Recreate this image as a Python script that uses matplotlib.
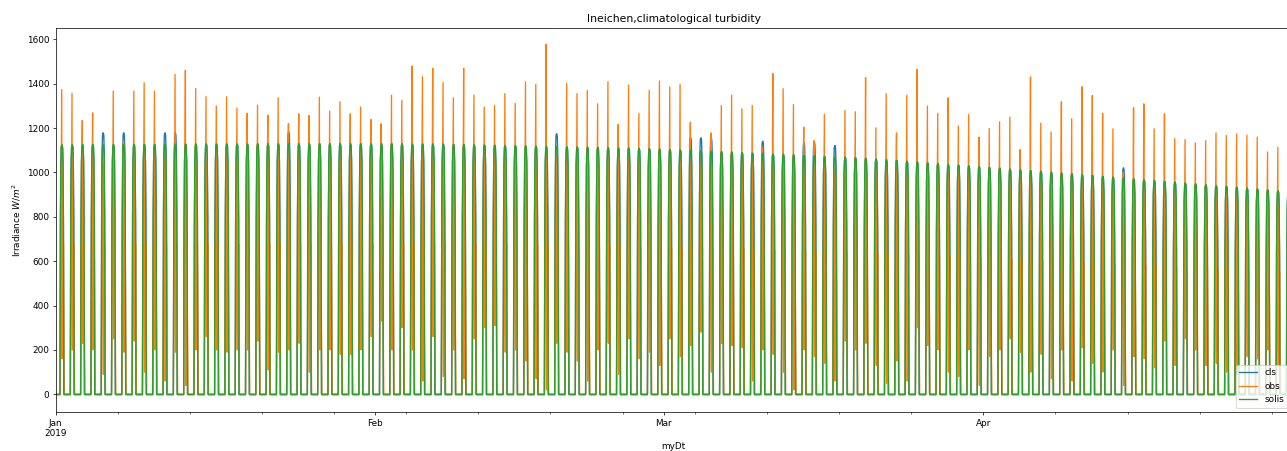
import numpy as np
import pandas as pd
import matplotlib
matplotlib.use("Agg")
import matplotlib.pyplot as plt
import matplotlib.dates as mdates
from matplotlib.ticker import FuncFormatter

# ---------------- data ----------------
start_date = "2019-01-01"
n_days = 120

# daily maximum of the Solis clear-sky series (W/m2)
solis_jan = [1124, 1124, 1125, 1125, 1125, 1125, 1126, 1126, 1126, 1126,
             1127, 1127, 1127, 1127, 1128, 1128, 1128, 1128, 1128, 1128,
             1129, 1129, 1129, 1129, 1129, 1129, 1129, 1129, 1129, 1129, 1129]
solis_feb = [1129, 1129, 1129, 1128, 1128, 1128, 1127, 1126, 1125,
             1124, 1123, 1122, 1121, 1120, 1119, 1118, 1117, 1116, 1115,
             1114, 1113, 1112, 1111, 1110, 1109, 1108, 1107, 1105]
solis_mar = [1103,
             1101, 1099, 1097, 1095, 1093, 1091, 1089, 1087, 1085, 1083,
             1081, 1079, 1076, 1074, 1072, 1070, 1068, 1066, 1063, 1060,
             1057, 1054, 1050, 1047, 1043, 1040, 1036, 1033, 1029, 1026]
solis_apr = [1022, 1019, 1015, 1012, 1008, 1005, 1001, 997, 994, 990,
             986, 982, 978, 975, 971, 967, 963, 959, 956, 952,
             948, 944, 940, 937, 933, 929, 925, 921, 917, 913]

# daily maximum of the Ineichen clear-sky series (W/m2)
cls_jan = [1124, 1124, 1125, 1125, 1178, 1125, 1178, 1126, 1126, 1126,
           1178, 1178, 1127, 1127, 1128, 1128, 1128, 1128, 1128, 1128,
           1129, 1129, 1182, 1129, 1129, 1129, 1129, 1129, 1129, 1129, 1129]
cls_feb = [1129, 1129, 1129, 1128, 1128, 1128, 1127, 1126, 1125,
           1124, 1123, 1122, 1121, 1120, 1119, 1118, 1117, 1174, 1115,
           1114, 1113, 1112, 1111, 1110, 1109, 1108, 1107, 1105]
cls_mar = [1103,
           1101, 1156, 1155, 1154, 1093, 1091, 1089, 1087, 1140, 1083,
           1081, 1079, 1132, 1136, 1072, 1121, 1068, 1066, 1063, 1060,
           1057, 1054, 1050, 1047, 1043, 1040, 1036, 1033, 1029, 1026]
cls_apr = [1022, 1019, 1015, 1012, 1008, 1005, 1001, 997, 994, 990,
           986, 982, 978, 1020, 971, 967, 963, 959, 956, 952,
           948, 944, 940, 937, 933, 929, 925, 921, 917, 913]

# daily maximum of the observations (W/m2)
obs_jan = [1374, 1356, 1234, 1268, 1010, 1366, 1140, 1366, 1404, 1366,
           1050, 1442, 1460, 1378, 1341, 1299, 1341, 1290, 1266, 1303,
           1258, 1336, 1220, 1264, 1256, 1339, 1276, 1318, 1264, 1294, 1238]
obs_feb = [1219, 1348, 1324, 1479, 1431, 1469, 1405, 1336, 1469,
           1348, 1294, 1302, 1355, 1311, 1408, 1397, 1577, 1080, 1401,
           1355, 1369, 1309, 1409, 1216, 1394, 1266, 1369, 1412]
obs_mar = [1385,
           1397, 1226, 1050, 1178, 1302, 1348, 1287, 1302, 1113, 1445,
           1377, 1306, 1204, 1143, 1261, 1000, 1279, 1273, 1427, 1201,
           1355, 1178, 1348, 1464, 1299, 1266, 1336, 1208, 1261, 1159]
obs_apr = [1198, 1228, 1249, 1103, 1430, 1222, 1182, 1318, 1242, 1386,
           1347, 1266, 1196, 1000, 1291, 1309, 1196, 1264, 1152, 1148,
           1133, 1143, 1178, 1166, 1173, 1167, 1159, 1092, 1113, 1000]

# cloud dip of the observations right after the daily maximum (W/m2)
dip_jan = [160, 200, 230, 200, 90, 250, 190, 240, 100, 200,
           60, 190, 40, 200, 260, 200, 190, 200, 200, 240,
           110, 190, 200, 230, 100, 200, 200, 180, 180, 200, 260]
dip_feb = [330, 200, 300, 200, 60, 260, 80, 200, 70, 250,
           300, 310, 190, 200, 150, 70, 20, 230, 190, 150,
           60, 200, 230, 90, 250, 160, 190, 130]
dip_mar = [250, 170, 220, 280, 100, 230, 220, 210, 60, 200,
           180, 100, 20, 200, 170, 140, 60, 240, 200, 230,
           130, 50, 150, 60, 300, 220, 200, 100, 80, 200, 40]
dip_apr = [170, 200, 250, 190, 100, 180, 70, 200, 60, 210,
           140, 100, 200, 40, 170, 160, 120, 240, 130, 250,
           200, 130, 140, 100, 90, 170, 160, 200, 130, 100]

# hourly shape of a clear day (fraction of the daily maximum), hours 0..23
clear_shape = [0, 0, 0, 0, 0, 0, 0, 0, 0, 0, 0,
               0.7, 0.93, 0.99, 1.0, 1.0, 0.99, 0.93, 0.7, 0, 0, 0, 0, 0]
# hourly shape of the observations relative to the clear-sky maximum
obs_shape = [0, 0, 0, 0, 0, 0, 0, 0, 0, 0, 0,
             0.3, 0.55, 0.95, 0, 0, 0.92, 0.45, 0.6, 0.2, 0, 0, 0, 0]
obs_peak_hour = 14
obs_dip_hour = 15
obs_night = -3

series_labels = ["cls", "obs", "solis"]

# ---------------- build hourly series ----------------
solis_peak = solis_jan + solis_feb + solis_mar + solis_apr
cls_peak = cls_jan + cls_feb + cls_mar + cls_apr
obs_peak = obs_jan + obs_feb + obs_mar + obs_apr
obs_dip = dip_jan + dip_feb + dip_mar + dip_apr

times = pd.date_range(start_date, periods=n_days * 24, freq="h")
cls_vals, obs_vals, solis_vals = [], [], []
for d in range(n_days):
    for h in range(24):
        solis_vals.append(solis_peak[d] * clear_shape[h])
        cls_vals.append(cls_peak[d] * clear_shape[h])
        if h == obs_peak_hour:
            o = obs_peak[d]
        elif h == obs_dip_hour:
            o = obs_dip[d]
        elif obs_shape[h] == 0:
            o = obs_night
        else:
            o = solis_peak[d] * obs_shape[h]
        obs_vals.append(o)

# ---------------- figure ----------------
dpi = 64.35
fig = plt.figure(figsize=(1287 / dpi, 451 / dpi), dpi=dpi)
ax = fig.add_axes([55.7 / 1287, (451 - 412.3) / 451,
                   (1292 - 55.7) / 1287, (412.3 - 27.7) / 451])

ax.plot(times, cls_vals, color="tab:blue", label=series_labels[0])
ax.plot(times, obs_vals, color="tab:orange", label=series_labels[1])
ax.plot(times, solis_vals, color="tab:green", label=series_labels[2])

ax.set_xlim(times[0], times[-1])
ax.set_ylim(-81, 1652)
ax.set_yticks([0, 200, 400, 600, 800, 1000, 1200, 1400, 1600])

ax.xaxis.set_major_locator(mdates.MonthLocator())
ax.xaxis.set_minor_locator(mdates.WeekdayLocator(byweekday=mdates.MO))


def month_fmt(x, pos):
    dt = mdates.num2date(x)
    if dt.month == 1:
        return dt.strftime("%b\n%Y")
    return dt.strftime("%b")


ax.xaxis.set_major_formatter(FuncFormatter(month_fmt))
for lbl in ax.get_xticklabels():
    lbl.set_ha("center")

ax.set_title("Ineichen,climatological turbidity")
ax.set_ylabel("Irradiance $W/m^2$")
ax.set_xlabel("myDt")
ax.legend(loc="lower right")

fig.savefig("out.png", dpi=dpi)
